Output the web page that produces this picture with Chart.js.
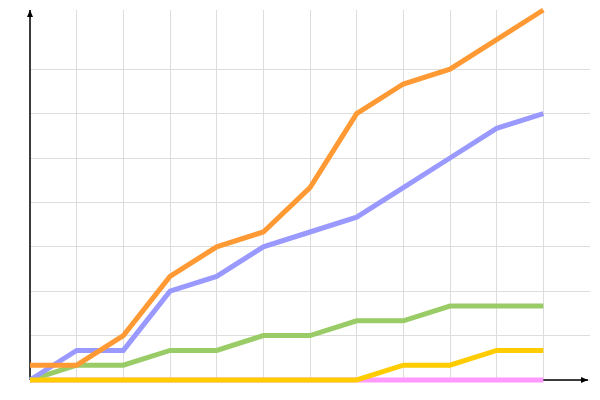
<!DOCTYPE html>
<html>
<head>
<meta charset="utf-8">
<script src="https://cdn.jsdelivr.net/npm/chart.js@4"></script>
<style>
  html, body { margin: 0; padding: 0; background: #fff; }
  #wrap { width: 600px; height: 400px; }
</style>
</head>
<body>
<div id="wrap"><canvas id="chart"></canvas></div>
<script>
const positions = [0, 1, 2, 3, 4, 5, 6, 7, 8, 9, 10, 11];
const yellowValues = [0, 0, 0, 0, 0, 0, 0, 0, 1, 1, 2, 2];
const orangeValues = [1, 1, 3, 7, 9, 10, 13, 18, 20, 21, 23, 25];
const blueValues = [0, 2, 2, 6, 7, 9, 10, 11, 13, 15, 17, 18];
const greenValues = [0, 1, 1, 2, 2, 3, 3, 4, 4, 5, 5, 5];
const pinkValues = [0, 0, 0, 0, 0, 0, 0, 0, 0, 0, 0, 0];
const yTicks = [0, 3, 6, 9, 12, 15, 18, 21];

function points(values) {
  return values.map((v, i) => ({ x: positions[i], y: v }));
}

function series(values, color) {
  return {
    data: points(values),
    borderColor: color,
    backgroundColor: color,
    borderWidth: 5,
    pointRadius: 0,
    tension: 0,
    fill: false,
    clip: false,
  };
}

// axis lines with small arrow heads, under the lines
const arrowAxes = {
  id: "arrowAxes",
  beforeDatasetsDraw(chart) {
    const ctx = chart.ctx;
    const a = chart.chartArea;
    ctx.save();
    ctx.strokeStyle = "#000";
    ctx.fillStyle = "#000";
    ctx.lineWidth = 1.5;
    ctx.beginPath();
    ctx.moveTo(a.left, a.bottom);
    ctx.lineTo(a.left, a.top);
    ctx.moveTo(a.left, a.bottom);
    ctx.lineTo(a.right - 2, a.bottom);
    ctx.stroke();
    ctx.beginPath();
    ctx.moveTo(a.left, a.top);
    ctx.lineTo(a.left - 3, a.top + 7);
    ctx.lineTo(a.left + 3, a.top + 7);
    ctx.closePath();
    ctx.fill();
    ctx.beginPath();
    ctx.moveTo(a.right - 2, a.bottom);
    ctx.lineTo(a.right - 9, a.bottom - 3);
    ctx.lineTo(a.right - 9, a.bottom + 3);
    ctx.closePath();
    ctx.fill();
    ctx.restore();
  },
};

new Chart(document.getElementById("chart").getContext("2d"), {
  type: "line",
  data: {
    datasets: [
      series(yellowValues, "#ffcc00"),
      series(orangeValues, "#ff9933"),
      series(blueValues, "#9999ff"),
      series(greenValues, "#99cc66"),
      series(pinkValues, "#ff99ff"),
    ],
  },
  options: {
    responsive: true,
    maintainAspectRatio: false,
    animation: false,
    layout: { padding: { left: 30, right: 10, top: 10, bottom: 20 } },
    plugins: { legend: { display: false }, tooltip: { enabled: false } },
    scales: {
      x: {
        type: "linear",
        min: 0,
        max: 12,
        afterBuildTicks: (axis) => {
          axis.ticks = positions.map((v) => ({ value: v }));
        },
        ticks: { display: false },
        border: { display: false },
        grid: { drawTicks: false, color: "#dddddd" },
      },
      y: {
        min: 0,
        max: 25,
        afterBuildTicks: (axis) => {
          axis.ticks = yTicks.map((v) => ({ value: v }));
        },
        ticks: { display: false },
        border: { display: false },
        grid: { drawTicks: false, color: "#dddddd" },
      },
    },
  },
  plugins: [arrowAxes],
});
</script>
</body>
</html>
